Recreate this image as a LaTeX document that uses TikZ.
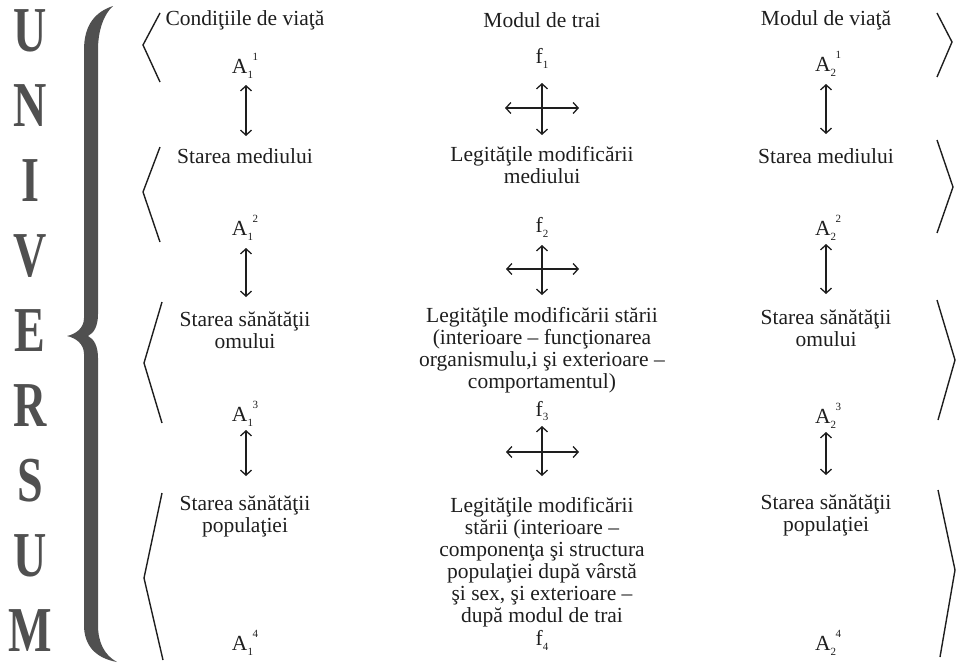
\documentclass[tikz,border=0pt]{standalone}
\usepackage{fontspec}
\setmainfont{Liberation Serif}
\usetikzlibrary{arrows.meta}
\definecolor{ink}{HTML}{1E1E1E}
\definecolor{bracegray}{HTML}{505050}
\newcommand\Alab[2]{A\rlap{\raisebox{-0.5ex}{\fontsize{11}{11}\selectfont #1}}\hspace{5pt}\raisebox{1.3ex}{\fontsize{11}{11}\selectfont #2}}
\newcommand\Flab[1]{f\raisebox{-0.5ex}{\fontsize{11}{11}\selectfont #1}}
\tikzset{
  txt/.style={text=ink, align=center, font=\fontsize{21.5}{22}\selectfont, inner sep=0pt},
  lab/.style={text=ink, font=\fontsize{21.5}{22}\selectfont, inner sep=0pt},
  dbl/.style={draw=ink, line width=1.3pt, {Straight Barb[length=5pt,width=11pt]}-{Straight Barb[length=5pt,width=11pt]}},
  chev/.style={draw=ink, line width=1.4pt, line join=miter},
  big/.style={text=bracegray, inner sep=0pt, font=\fontsize{64}{64}\selectfont\bfseries}
}
\begin{document}
\begin{tikzpicture}[x=1pt,y=-1pt]
\useasboundingbox (0,0) rectangle (957,664);
% UNIVERSUM letters
\foreach \L [count=\i from 0] in {U,N,I,V,E,R,S,U,M}
  \node[big] (L\i) at (30,{31+75*\i}) {\scalebox{0.72}[1]{\L}};
% big brace
\fill[bracegray] (113,6) .. controls (95,12) and (84,25) .. (84,50) -- (84,318)
  .. controls (84,328) and (76,334) .. (67,336) .. controls (76,338) and (84,344) .. (84,354)
  -- (84,625) .. controls (84,645) and (95,658) .. (117,662)
  .. controls (104,655) and (98,642) .. (98,625) -- (98,358)
  .. controls (98,346) and (94,339) .. (88,336) .. controls (94,333) and (98,326) .. (98,314)
  -- (98,50) .. controls (98,30) and (104,14) .. (113,6) -- cycle;
% left chevrons
\draw[chev] (160,13) -- (143,45) -- (160,82);
\draw[chev] (160,147) -- (143,192) -- (160,242);
\draw[chev] (162,302) -- (144,363) -- (162,423);
\draw[chev] (162,493) -- (144,578) -- (163,660);
% right chevrons
\draw[chev] (937,13) -- (952,42) -- (937,77);
\draw[chev] (937,140) -- (953,187) -- (937,233);
\draw[chev] (937,300) -- (955,360) -- (938,420);
\draw[chev] (938,490) -- (955,570) -- (940,657);
% headers
\node[txt] (h1) at (245,20) {Condiţiile de viaţă};
\node[txt] (h2) at (542,20) {Modul de trai};
\node[txt] (h3) at (826,20) {Modul de viaţă};
% labels
\node[lab] (a11) at (245,66) {\Alab{1}{1}};
\node[lab] (f1) at (542,58) {\Flab{1}};
\node[lab] (a21) at (828,64) {\Alab{2}{1}};
\node[lab] (a12) at (245,228) {\Alab{1}{2}};
\node[lab] (f2) at (542,227) {\Flab{2}};
\node[lab] (a22) at (828,228) {\Alab{2}{2}};
\node[lab] (a13) at (245,414) {\Alab{1}{3}};
\node[lab] (f3) at (542,411) {\Flab{3}};
\node[lab] (a23) at (828,416) {\Alab{2}{3}};
\node[lab] (a14) at (245,643) {\Alab{1}{4}};
\node[lab] (f4) at (542,640) {\Flab{4}};
\node[lab] (a24) at (828,643) {\Alab{2}{4}};
% texts
\node[txt] (s12) at (245,156) {Starea mediului};
\node[txt] (m2) at (542,165) {Legităţile modificării\\mediului};
\node[txt] (s22) at (826,156) {Starea mediului};
\node[txt] (s13) at (245,330) {Starea sănătăţii\\omului};
\node[txt] (m3) at (542,350) {Legităţile modificării stării\\(interioare – funcţionarea\\organismulu,i şi exterioare –\\comportamentul)};
\node[txt] (s23) at (826,328) {Starea sănătăţii\\omului};
\node[txt] (s14) at (245,516) {Starea sănătăţii\\populaţiei};
\node[txt] (m4) at (542,562) {Legităţile modificării\\stării (interioare –\\componenţa şi structura\\populaţiei după vârstă\\şi sex, şi exterioare –\\după modul de trai};
\node[txt] (s24) at (826,515) {Starea sănătăţii\\populaţiei};
% arrow end points
\coordinate (p1t) at (246,85);  \coordinate (p1b) at (246,136);
\coordinate (p2t) at (246,248); \coordinate (p2b) at (246,297);
\coordinate (p3t) at (246,430); \coordinate (p3b) at (246,476);
\coordinate (q1t) at (826,84);  \coordinate (q1b) at (826,134);
\coordinate (q2t) at (826,244); \coordinate (q2b) at (826,294);
\coordinate (q3t) at (826,432); \coordinate (q3b) at (826,475);
\coordinate (c1t) at (542,83);  \coordinate (c1b) at (542,135);
\coordinate (c1l) at (505,108); \coordinate (c1r) at (579,108);
\coordinate (c2t) at (542,245); \coordinate (c2b) at (542,295);
\coordinate (c2l) at (506,269); \coordinate (c2r) at (579,269);
\coordinate (c3t) at (542,426); \coordinate (c3b) at (542,476);
\coordinate (c3l) at (506,452); \coordinate (c3r) at (579,452);
\draw[dbl] (p1t) -- (p1b);
\draw[dbl] (p2t) -- (p2b);
\draw[dbl] (p3t) -- (p3b);
\draw[dbl] (q1t) -- (q1b);
\draw[dbl] (q2t) -- (q2b);
\draw[dbl] (q3t) -- (q3b);
\draw[dbl] (c1t) -- (c1b);
\draw[dbl] (c1l) -- (c1r);
\draw[dbl] (c2t) -- (c2b);
\draw[dbl] (c2l) -- (c2r);
\draw[dbl] (c3t) -- (c3b);
\draw[dbl] (c3l) -- (c3r);
\end{tikzpicture}
\end{document}
